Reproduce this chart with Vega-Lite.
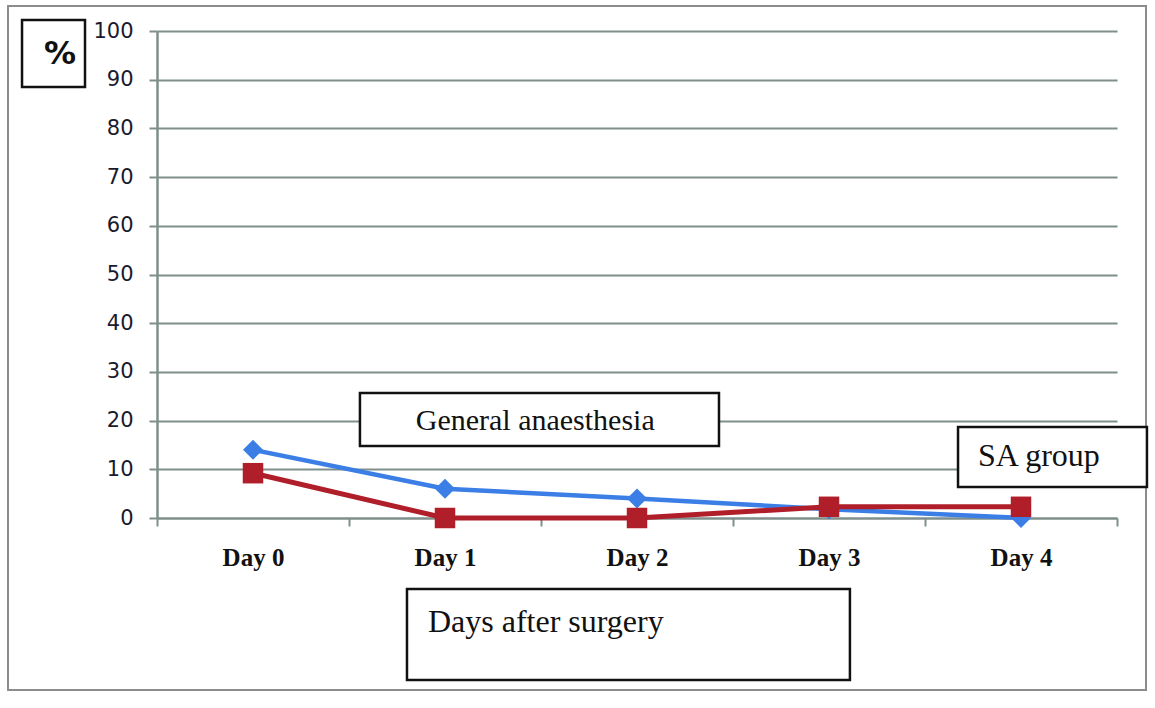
{
  "$schema": "https://vega.github.io/schema/vega-lite/v6.json",
  "autosize": "none",
  "width": 960,
  "height": 487,
  "padding": {"left": 157, "top": 31, "right": 38, "bottom": 190},
  "background": "white",
  "config": {"view": {"stroke": null}},
  "datasets": {
    "series": [
      {"day": "Day 0", "group": "General anaesthesia", "pct": 14},
      {"day": "Day 1", "group": "General anaesthesia", "pct": 6},
      {"day": "Day 2", "group": "General anaesthesia", "pct": 4},
      {"day": "Day 3", "group": "General anaesthesia", "pct": 1.8},
      {"day": "Day 4", "group": "General anaesthesia", "pct": 0},
      {"day": "Day 0", "group": "SA group", "pct": 9.2},
      {"day": "Day 1", "group": "SA group", "pct": 0},
      {"day": "Day 2", "group": "SA group", "pct": 0},
      {"day": "Day 3", "group": "SA group", "pct": 2.3},
      {"day": "Day 4", "group": "SA group", "pct": 2.3}
    ]
  },
  "resolve": {"scale": {"x": "independent", "y": "independent"}},
  "layer": [
    {
      "data": {"values": [{}]},
      "layer": [
        {
          "mark": {"type": "rect", "fill": null, "fillOpacity": 0, "stroke": "#8c8c8c", "strokeWidth": 2},
          "encoding": {
            "x": {"datum": -0.776, "type": "quantitative", "scale": {"domain": [0, 5]}, "axis": null},
            "x2": {"datum": 5.151},
            "y": {"datum": 105.13, "type": "quantitative", "scale": {"domain": [0, 100]}, "axis": null},
            "y2": {"datum": -35.32}
          }
        },
        {
          "mark": {"type": "rect", "fill": "white", "stroke": "#111111", "strokeWidth": 2.5},
          "encoding": {
            "x": {"datum": -0.703, "type": "quantitative"},
            "x2": {"datum": -0.375},
            "y": {"datum": 102.26, "type": "quantitative"},
            "y2": {"datum": 88.5}
          }
        },
        {
          "mark": {"type": "text", "text": "%", "font": "DejaVu Sans", "fontWeight": "bold", "fontSize": 32, "align": "center", "baseline": "middle", "color": "#111111"},
          "encoding": {
            "x": {"datum": -0.505, "type": "quantitative"},
            "y": {"datum": 95.3, "type": "quantitative"}
          }
        },
        {
          "mark": {"type": "rect", "fill": "white", "stroke": "#111111", "strokeWidth": 2.5},
          "encoding": {
            "x": {"datum": 1.057, "type": "quantitative"},
            "x2": {"datum": 2.927},
            "y": {"datum": 25.67, "type": "quantitative"},
            "y2": {"datum": 14.78}
          }
        },
        {
          "mark": {"type": "text", "text": "General anaesthesia", "font": "Liberation Serif", "fontSize": 30, "align": "center", "baseline": "middle", "color": "#111111"},
          "encoding": {
            "x": {"datum": 1.97, "type": "quantitative"},
            "y": {"datum": 19.92, "type": "quantitative"}
          }
        },
        {
          "mark": {"type": "rect", "fill": "white", "stroke": "#111111", "strokeWidth": 2.5},
          "encoding": {
            "x": {"datum": 4.172, "type": "quantitative"},
            "x2": {"datum": 5.156},
            "y": {"datum": 18.69, "type": "quantitative"},
            "y2": {"datum": 6.37}
          }
        },
        {
          "mark": {"type": "text", "text": "SA group", "font": "Liberation Serif", "fontSize": 32, "align": "left", "baseline": "middle", "color": "#111111"},
          "encoding": {
            "x": {"datum": 4.276, "type": "quantitative"},
            "y": {"datum": 12.73, "type": "quantitative"}
          }
        },
        {
          "mark": {"type": "rect", "fill": "white", "stroke": "#111111", "strokeWidth": 2.5},
          "encoding": {
            "x": {"datum": 1.302, "type": "quantitative"},
            "x2": {"datum": 3.609},
            "y": {"datum": -14.58, "type": "quantitative"},
            "y2": {"datum": -33.26}
          }
        },
        {
          "mark": {"type": "text", "text": "Days after surgery", "font": "Liberation Serif", "fontSize": 32, "align": "left", "baseline": "middle", "color": "#111111"},
          "encoding": {
            "x": {"datum": 1.411, "type": "quantitative"},
            "y": {"datum": -21.36, "type": "quantitative"}
          }
        }
      ]
    },
    {
      "data": {"name": "series"},
      "encoding": {
        "x": {
          "field": "day", "type": "nominal",
          "scale": {"type": "band", "paddingInner": 0, "paddingOuter": 0},
          "axis": {
            "orient": "bottom", "title": null, "labelAngle": 0, "grid": false,
            "tickBand": "extent", "domain": true, "domainColor": "#7f8f8c", "domainWidth": 2,
            "tickColor": "#7f8f8c", "tickWidth": 2, "tickSize": 8,
            "labelFont": "Liberation Serif", "labelFontWeight": "bold", "labelFontSize": 25,
            "labelColor": "#111111", "labelPadding": 19
          }
        },
        "y": {
          "field": "pct", "type": "quantitative",
          "scale": {"domain": [0, 100]},
          "axis": {
            "orient": "left", "title": null, "values": [0, 10, 20, 30, 40, 50, 60, 70, 80, 90, 100],
            "grid": true, "gridColor": "#7f8f8c", "gridWidth": 2, "gridOpacity": 1,
            "domain": true, "domainColor": "#7f8f8c", "domainWidth": 2.5,
            "tickColor": "#7f8f8c", "tickWidth": 2, "tickSize": 8,
            "labelFont": "DejaVu Sans", "labelFontSize": 21, "labelColor": "#1a1a2e",
            "labelPadding": 16
          }
        },
        "color": {
          "field": "group", "type": "nominal",
          "scale": {"domain": ["General anaesthesia", "SA group"], "range": ["#3a7ee6", "#b01e2a"]},
          "legend": null
        }
      },
      "layer": [
        {
          "transform": [{"filter": "datum.group === 'General anaesthesia'"}],
          "mark": {"type": "line", "strokeWidth": 4.5, "point": {"shape": "diamond", "size": 400, "filled": true, "opacity": 1}}
        },
        {
          "transform": [{"filter": "datum.group === 'SA group'"}],
          "mark": {"type": "line", "strokeWidth": 5, "point": {"shape": "square", "size": 420, "filled": true, "opacity": 1}}
        }
      ]
    }
  ]
}
